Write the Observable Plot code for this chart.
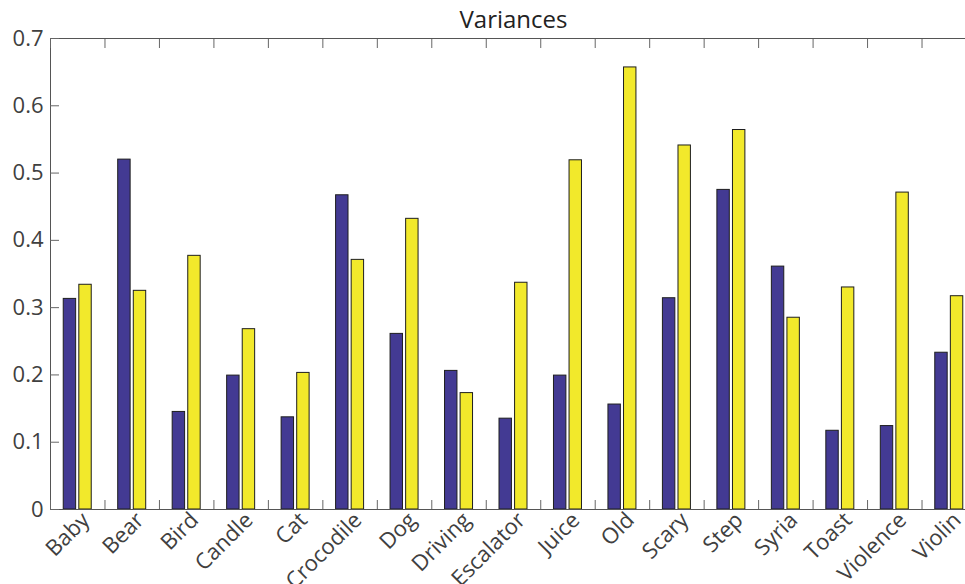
<!DOCTYPE html>
<html>
<head>
<meta charset="utf-8">
<script src="https://cdn.jsdelivr.net/npm/d3@7"></script>
<script src="https://cdn.jsdelivr.net/npm/@observablehq/plot@0.6"></script>
<style>
  html, body { margin: 0; padding: 0; background: white; }
  #chart { width: 965px; height: 584px; overflow: hidden; }
</style>
</head>
<body>
<div id="chart"></div>
<script>
const categories = ["Baby","Bear","Bird","Candle","Cat","Crocodile","Dog","Driving","Escalator","Juice","Old","Scary","Step","Syria","Toast","Violence","Violin"];
const series1 = [0.313,0.520,0.145,0.199,0.137,0.467,0.261,0.206,0.135,0.199,0.156,0.314,0.475,0.361,0.117,0.124,0.233];
const series2 = [0.334,0.325,0.377,0.268,0.203,0.371,0.432,0.173,0.337,0.519,0.657,0.541,0.564,0.285,0.330,0.471,0.317];
const yTicks = [0,0.1,0.2,0.3,0.4,0.5,0.6,0.7];
const title = "Variances";

const seriesNames = ["s1","s2"];
const colors = ["#433a93","#f2e92b"];
// bar placement within each category (MATLAB grouped-bar layout)
const barOffset = {s1: 0.243, s2: 0.529};
const barWidth = 0.228;

const rows = [];
categories.forEach((c, i) => {
  rows.push({cat: c, i, series: "s1", value: series1[i]});
  rows.push({cat: c, i, series: "s2", value: series2[i]});
});

const font = "'Open Sans', sans-serif";
const boundaries = d3.range(categories.length + 1);

const plot = Plot.plot({
  width: 965,
  height: 584,
  marginTop: 38,
  marginBottom: 75,
  marginLeft: 50,
  marginRight: -11,
  style: {fontFamily: font, background: "white", overflow: "hidden"},
  x: {type: "linear", domain: [0, categories.length]},
  y: {domain: [0, 0.7]},
  color: {domain: seriesNames, range: colors},
  marks: [
    Plot.rectY(rows, {
      x1: d => d.i + barOffset[d.series],
      x2: d => d.i + barOffset[d.series] + barWidth,
      y1: 0,
      y2: "value",
      fill: "series",
      stroke: "#1e1e1e",
      strokeWidth: 1
    }),
    Plot.frame({stroke: "#555", strokeWidth: 1}),
    Plot.axisX({ticks: boundaries, anchor: "bottom", tickSize: 9, dy: -9, tickFormat: () => "", label: null, stroke: "#666"}),
    Plot.axisX({ticks: boundaries, anchor: "top", tickSize: 9, dy: 9, tickFormat: () => "", label: null, stroke: "#666"}),
    Plot.axisY({ticks: yTicks, anchor: "left", tickSize: 9, dx: 9, tickFormat: () => "", label: null, stroke: "#666"}),
    Plot.axisY({ticks: yTicks, anchor: "left", tickSize: 0, tickPadding: 7, tickFormat: d => String(d), label: null, fontSize: 22, fill: "#404040"}),
    Plot.text(categories, {
      x: (d, i) => i + 0.5,
      text: d => d,
      frameAnchor: "bottom",
      rotate: -45,
      textAnchor: "end",
      lineAnchor: "bottom",
      dx: 13,
      dy: 12,
      fontSize: 22,
      fill: "#404040"
    }),
    Plot.text([title], {
      frameAnchor: "top",
      lineAnchor: "bottom",
      dy: -11,
      fontSize: 24,
      fill: "#222"
    })
  ]
});

document.getElementById("chart").appendChild(plot);
</script>
</body>
</html>
